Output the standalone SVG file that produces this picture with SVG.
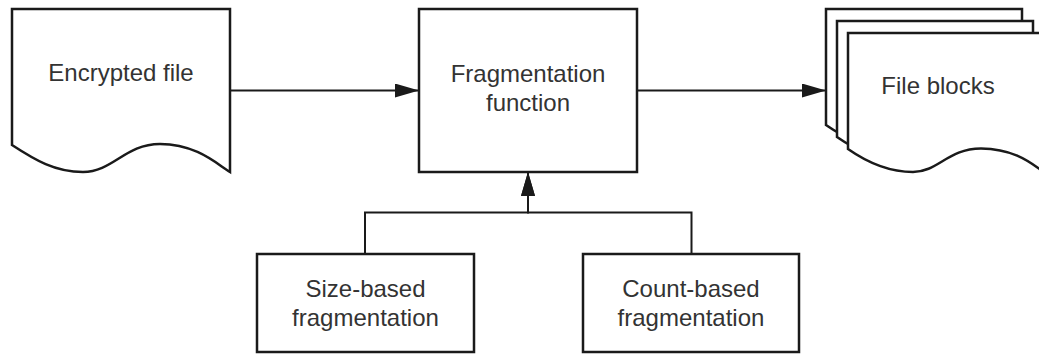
<svg xmlns="http://www.w3.org/2000/svg" width="1039" height="354" viewBox="0 0 1039 354">
  <style>
    .shape { fill: #ffffff; stroke: #1a1a1a; stroke-width: 2.5; }
    .label { font-family: "Liberation Sans", Arial, sans-serif; font-size: 24px; fill: #333333; text-anchor: middle; }
    .conn { fill: none; stroke: #1a1a1a; stroke-width: 2; }
  </style>
  <defs>
    <marker id="arrow" markerUnits="userSpaceOnUse" markerWidth="24" markerHeight="14" refX="24" refY="7" orient="auto">
      <path d="M0,0 L24,7 L0,14 z" fill="#1a1a1a"/>
    </marker>
    <!-- document page outline, 196 x 139, wavy bottom edge -->
    <path id="page" d="M0,0 H196 V139 C186,133 170,116 133,115.5 C100,115.5 90,139 65,139 C40,139 20,130 0,116 Z"/>
  </defs>
  <rect width="1039" height="354" fill="#ffffff"/>

  <g id="encrypted-file">
    <path class="shape" d="M12,9 H230 V172 C218,165 197,144 160,144 C125,144 113,172 83,172 C55,172 35,160 12,145 Z"/>
    <text class="label" x="121" y="81">Encrypted file</text>
  </g>

  <g id="fragmentation-function">
    <rect class="shape" x="419" y="9" width="218" height="163"/>
    <text class="label" x="528" y="82">Fragmentation</text>
    <text class="label" x="528" y="111">function</text>
  </g>

  <g id="file-blocks">
    <use href="#page" class="shape" x="826" y="9"/>
    <use href="#page" class="shape" x="837" y="21"/>
    <use href="#page" class="shape" x="848" y="33"/>
    <text class="label" x="938" y="94">File blocks</text>
  </g>

  <g id="size-based">
    <rect class="shape" x="257" y="254" width="217" height="98"/>
    <text class="label" x="365.5" y="297">Size-based</text>
    <text class="label" x="365.5" y="326">fragmentation</text>
  </g>

  <g id="count-based">
    <rect class="shape" x="583" y="254" width="216" height="98"/>
    <text class="label" x="691" y="297">Count-based</text>
    <text class="label" x="691" y="326">fragmentation</text>
  </g>

  <g id="connectors">
    <line class="conn" x1="230" y1="90.5" x2="419" y2="90.5" marker-end="url(#arrow)"/>
    <line class="conn" x1="637" y1="90.5" x2="826" y2="90.5" marker-end="url(#arrow)"/>
    <path class="conn" d="M365,254 V212.5 H528 V172" marker-end="url(#arrow)"/>
    <path class="conn" d="M691.5,254 V212.5 H528 V172" marker-end="url(#arrow)"/>
  </g>
</svg>
